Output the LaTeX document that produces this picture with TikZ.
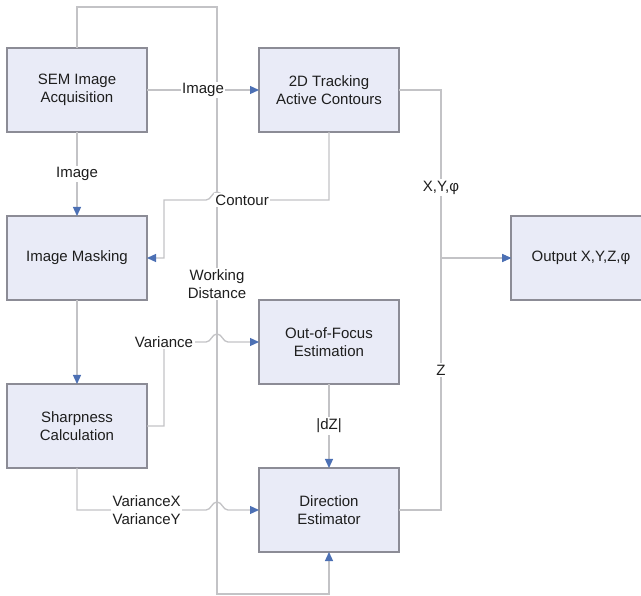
\documentclass[tikz,border=0pt]{standalone}
\usepackage{fontspec}
\setmainfont{Liberation Sans}
\usepackage{tikz}
\usetikzlibrary{arrows.meta, positioning}

\definecolor{boxfill}{RGB}{233,235,247}
\definecolor{boxline}{RGB}{140,140,150}
\definecolor{wire}{RGB}{195,195,198}
\definecolor{tipblue}{RGB}{76,112,180}
\definecolor{txt}{RGB}{30,30,30}

\begin{document}
\begin{tikzpicture}[
  x=1pt, y=-1pt,
  node distance=84pt and 112pt,
  box/.style={rectangle, draw=boxline, fill=boxfill, line width=1.1pt,
              minimum width=140pt, minimum height=84pt, outer sep=0pt,
              font=\fontsize{15}{18}\selectfont, text=txt, align=center},
  lbl/.style={fill=white, inner sep=1.5pt, font=\fontsize{15}{18}\selectfont,
              text=txt, align=center},
  wire/.style={draw=wire, line width=1.3pt},
  arr/.style={wire, -{Triangle[length=9pt, width=8pt, color=tipblue]}}
]
\useasboundingbox (0,0) rectangle (641,596);

\node[box] (sem) at (77,90) {SEM Image\\Acquisition};
\node[box, right=of sem]          (track) {2D Tracking\\Active Contours};
\node[box, below=of sem]          (mask)  {Image Masking};
\node[box, below=of mask]         (sharp) {Sharpness\\Calculation};
\node[box, below=168pt of track]  (focus) {Out-of-Focus\\Estimation};
\node[box, below=of focus]        (dir)   {Direction\\Estimator};
\node[box, right=of track, yshift=-168pt] (out) {Output X,Y,Z,φ};
\coordinate (wd) at (217,7);

% working distance loop
\draw[arr] (sem.north) |- (wd) -- node[lbl, pos=0.472]{Working\\Distance} ++(0,587) -| (dir.south);

\draw[arr] (sem)   -- node[lbl]{Image} (track);
\draw[arr] (sem)   -- node[lbl]{Image} (mask);
\draw[arr] (mask)  -- (sharp);
\draw[arr] (focus) -- node[lbl]{|dZ|} (dir);
\draw[arr] (track.south) -- ++(0,68) -- node[lbl, pos=0.86]{Contour} ++(-101,0)
  to[out=180,in=0] ++(-11,-8) to[out=180,in=0] ++(-11,8) -- ++(-42,0) |- (mask.east);
\draw[arr] (sharp.east) -- ++(17,0) |- node[lbl, pos=0.5]{Variance} ++(42,-84)
  to[out=0,in=180] ++(11,-8) to[out=0,in=180] ++(11,8) -- (focus.west);
\draw[arr] (sharp.south) |- node[lbl, pos=0.77]{VarianceX\\VarianceY} ++(129,42)
  to[out=0,in=180] ++(11,-8) to[out=0,in=180] ++(11,8) -- (dir.west);
\draw[arr] (track.east) -- ++(42,0) |- node[lbl, pos=0.29]{X,Y,φ} (out.west);
\draw[arr] (dir.east) -- ++(42,0) |- node[lbl, pos=0.278]{Z} (out.west);
\end{tikzpicture}
\end{document}
